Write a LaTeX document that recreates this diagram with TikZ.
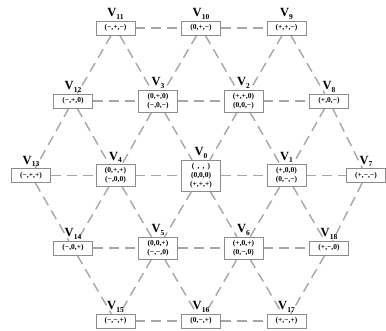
\documentclass[tikz,border=0pt]{standalone}
\usepackage{fontspec}
\setmainfont{Liberation Serif}
\usetikzlibrary{backgrounds}
\begin{document}
\begin{tikzpicture}[x=1pt,y=-1pt,
  vbox/.style={draw=black!45,line width=0.7pt,fill=white,align=center,
    font=\fontsize{7.5}{9}\selectfont\bfseries,inner xsep=2pt,inner ysep=3pt,
    minimum width=39pt,minimum height=14pt},
  vlabel/.style={font=\fontsize{12.5}{13}\selectfont\bfseries,inner sep=0pt,anchor=base},
  link/.style={draw=black!35,line width=1.4pt,dash pattern=on 10pt off 6pt}]
\useasboundingbox (0,0) rectangle (386,331);

\newcommand{\latticevertex}[5]{%
  \node[vbox] (v#1) at (#2,#3) {#4};
  \node[vlabel] (l#1) at ([yshift=4pt]v#1.north) {V\raisebox{-2.5pt}{\fontsize{7.5}{8}\selectfont #5}};}

% row 0
\latticevertex{11}{115.5}{28}{(−,+,−)}{11}
\latticevertex{10}{201}{28}{(0,+,−)}{10}
\latticevertex{9}{286.5}{28}{(+,+,−)}{9}
% row 1
\latticevertex{12}{73}{101}{(−,+,0)}{12}
\latticevertex{3}{158}{101}{(0,+,0)\\(−,0,−)}{3}
\latticevertex{2}{243.5}{101}{(+,+,0)\\(0,0,−)}{2}
\latticevertex{8}{329}{101}{(+,0,−)}{8}
% row 2
\latticevertex{13}{31}{175.5}{(−,+,+)}{13}
\latticevertex{4}{115.5}{175.5}{(0,+,+)\\(−,0,0)}{4}
\latticevertex{0}{201}{175.5}{(\ \,,\ \,,\ \,)\\(0,0,0)\\(+,+,+)}{0}
\latticevertex{1}{286.5}{175.5}{(+,0,0)\\(0,−,−)}{1}
\latticevertex{7}{366}{175.5}{(+,−,−)}{7}
% row 3
\latticevertex{14}{73}{248}{(−,0,+)}{14}
\latticevertex{5}{158}{248}{(0,0,+)\\(−,−,0)}{5}
\latticevertex{6}{243.5}{248}{(+,0,+)\\(0,−,0)}{6}
\latticevertex{18}{329}{248}{(+,−,0)}{18}
% row 4
\latticevertex{15}{115.5}{321}{(−,−,+)}{15}
\latticevertex{16}{201}{321}{(0,−,+)}{16}
\latticevertex{17}{286.5}{321}{(+,−,+)}{17}

% lattice connections, drawn behind the boxes
\begin{pgfonlayer}{background}
\foreach \a/\b in {11/10,10/9,12/3,3/2,2/8,13/4,4/0,0/1,1/7,14/5,5/6,6/18,15/16,16/17,
  11/12,11/3,10/3,10/2,9/2,9/8,
  12/13,12/4,3/4,3/0,2/0,2/1,8/1,8/7,
  13/14,4/14,4/5,0/5,0/6,1/6,1/18,7/18,
  14/15,5/15,5/16,6/16,6/17,18/17}
  \draw[link] (v\a) -- (v\b);
\end{pgfonlayer}
\end{tikzpicture}
\end{document}
